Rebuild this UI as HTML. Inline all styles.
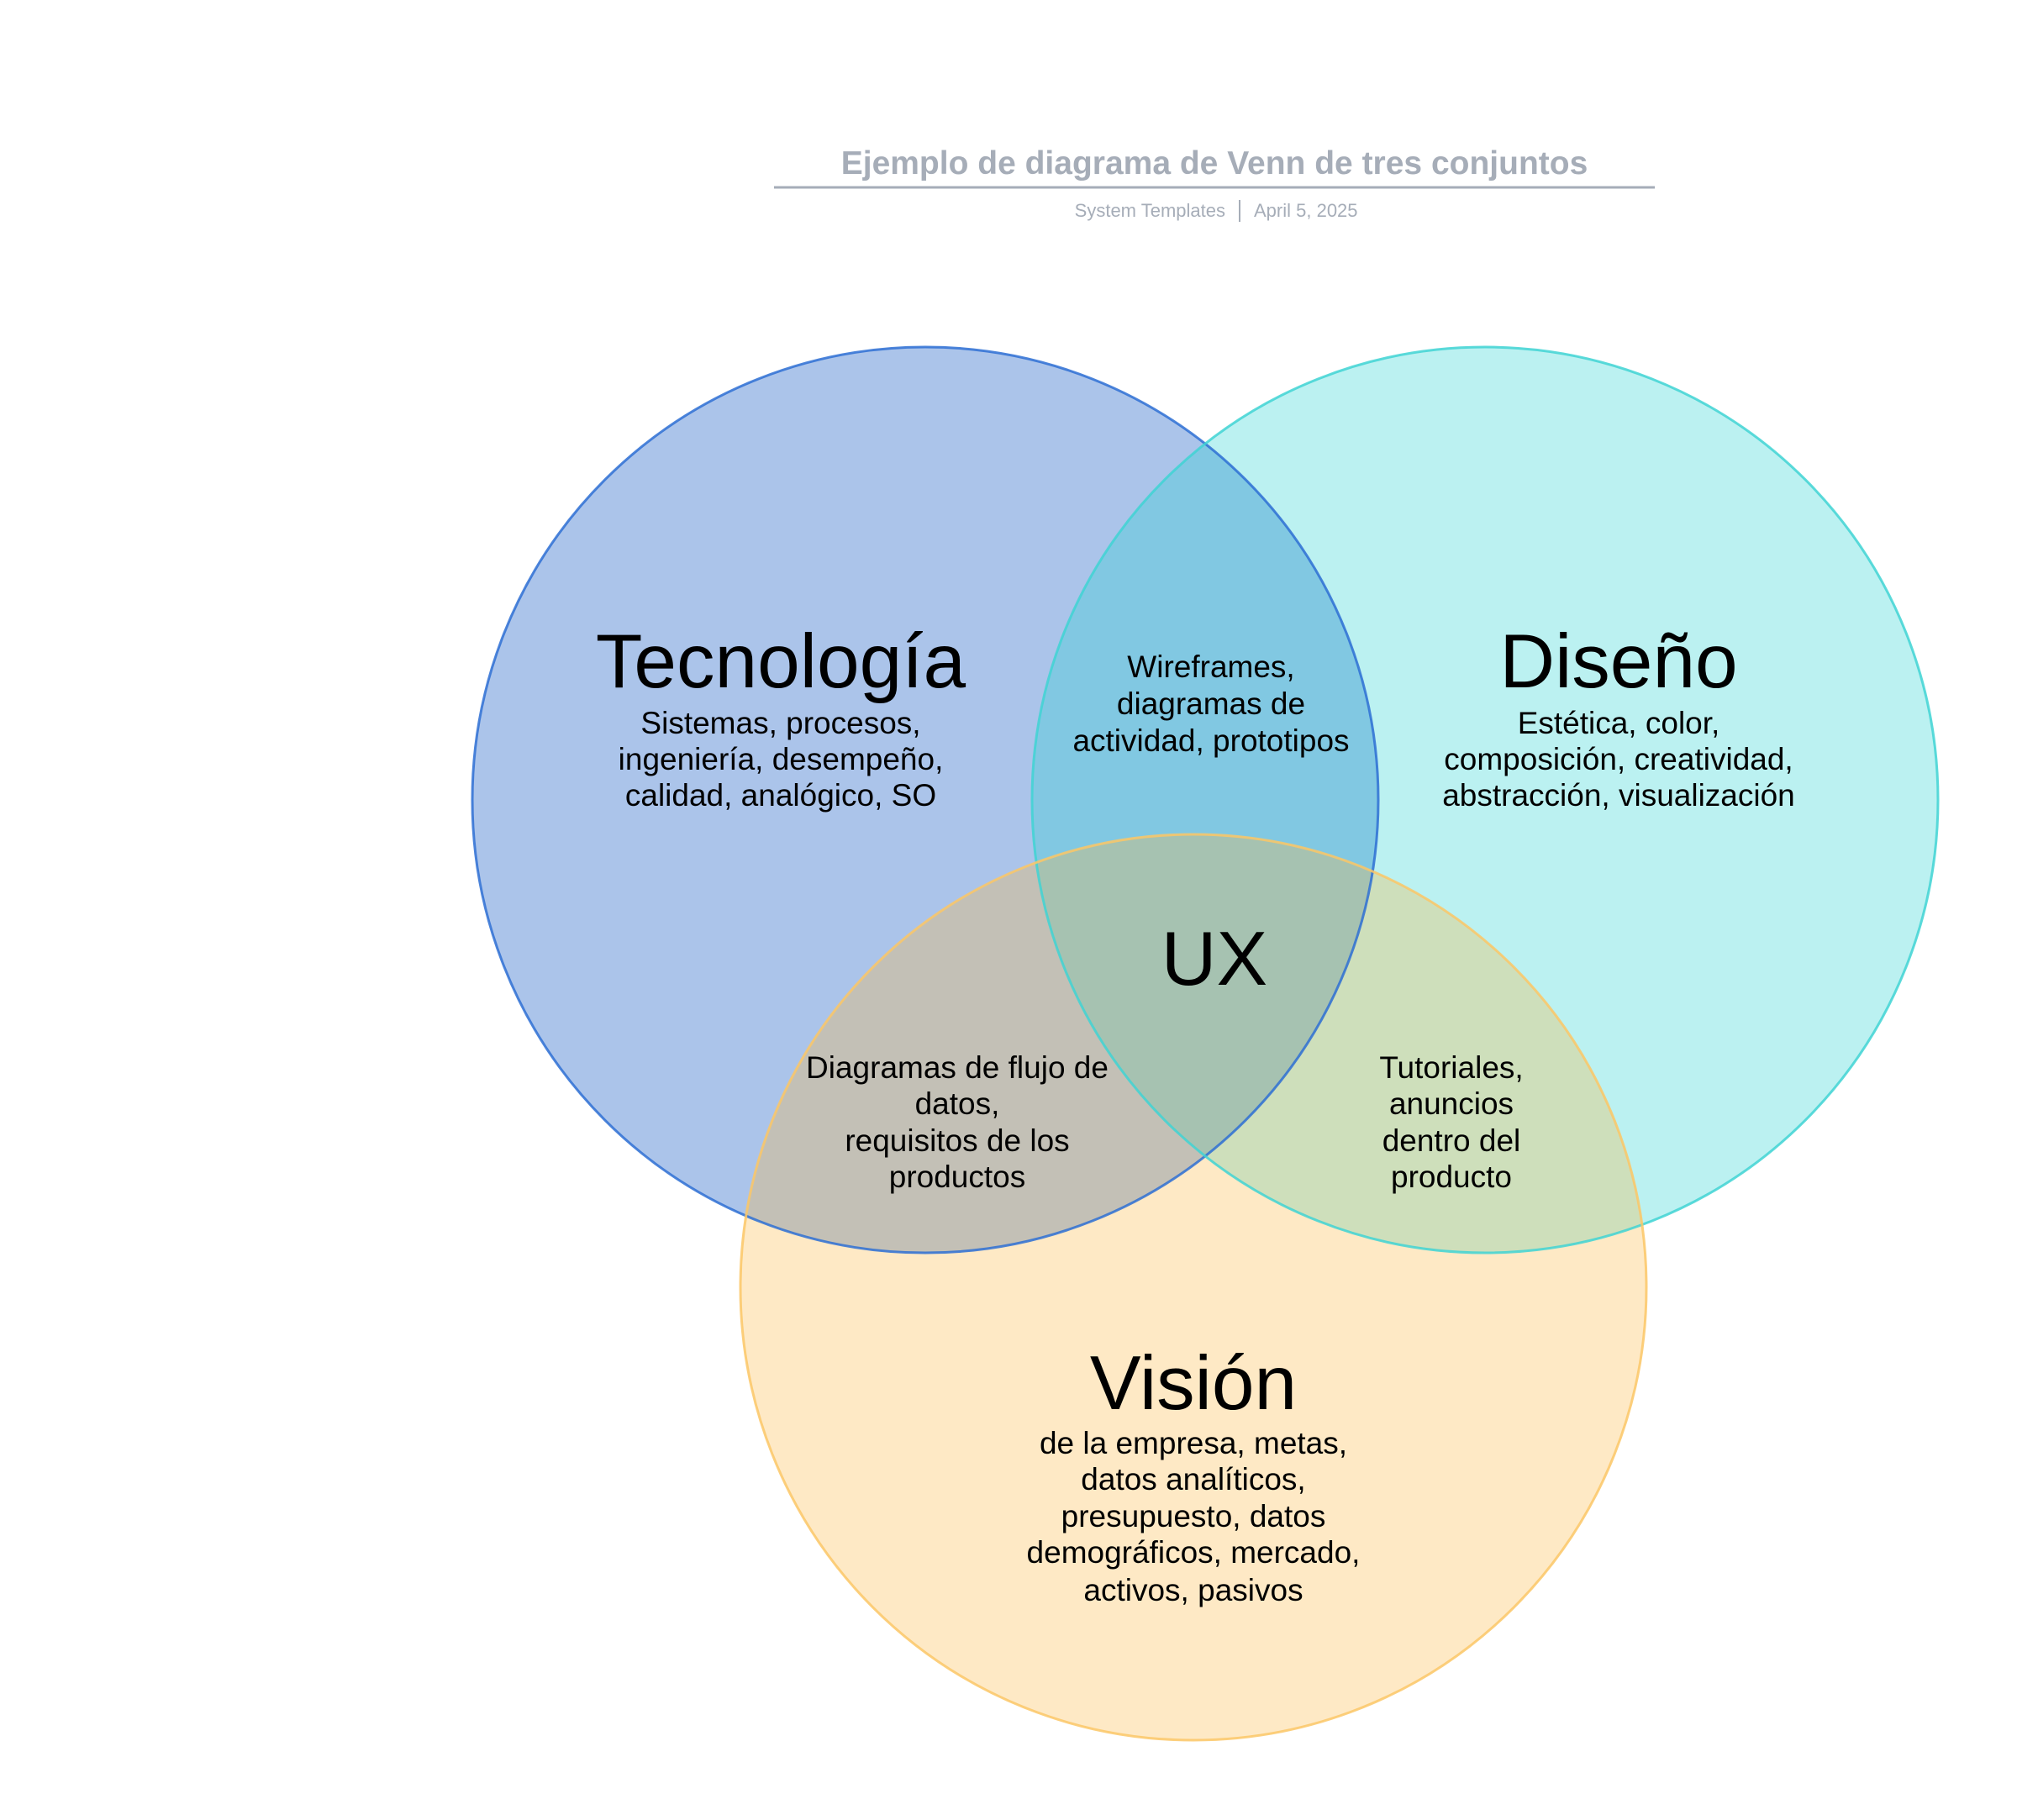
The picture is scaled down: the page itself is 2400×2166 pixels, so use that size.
<!DOCTYPE html>
<html><head><meta charset="utf-8"><style>
html,body{margin:0;padding:0;background:#fff;width:2400px;height:2166px;overflow:hidden}
svg{display:block}
text{font-family:"Liberation Sans",sans-serif;fill:#000}
</style></head><body>
<svg width="2400" height="2166" viewBox="0 0 2400 2166" xmlns="http://www.w3.org/2000/svg">
<text x="1445" y="207" text-anchor="middle" font-size="39" font-weight="bold" style="fill:#a6adb8">Ejemplo de diagrama de Venn de tres conjuntos</text>
<line x1="921" y1="223" x2="1969" y2="223" stroke="#a6adb8" stroke-width="3"/>
<text x="1458" y="258" text-anchor="end" font-size="22" style="fill:#a6adb8">System Templates</text>
<line x1="1475" y1="238" x2="1475" y2="264" stroke="#a6adb8" stroke-width="2"/>
<text x="1492" y="258" font-size="22" style="fill:#a6adb8">April 5, 2025</text>

<circle cx="1101" cy="952" r="539" fill="#3370cc" fill-opacity="0.41"/>
<circle cx="1767" cy="952" r="539" fill="#22d3d3" fill-opacity="0.31"/>
<circle cx="1420" cy="1532" r="539" fill="#fbb640" fill-opacity="0.3"/>
<circle cx="1101" cy="952" r="539" fill="none" stroke="#2d6fd4" stroke-width="3" stroke-opacity="0.85"/>
<circle cx="1767" cy="952" r="539" fill="none" stroke="#3fd3d3" stroke-width="3" stroke-opacity="0.85"/>
<circle cx="1420" cy="1532" r="539" fill="none" stroke="#fbc766" stroke-width="3" stroke-opacity="0.85"/>

<g text-anchor="middle">
<text x="929" y="818" font-size="91">Tecnología</text>
<g font-size="37">
<text x="929" y="873">Sistemas, procesos,</text>
<text x="929" y="916">ingeniería, desempeño,</text>
<text x="929" y="959">calidad, analógico, SO</text>
<text x="1441" y="806">Wireframes,</text>
<text x="1441" y="850">diagramas de</text>
<text x="1441" y="894">actividad, prototipos</text>
<text x="1926" y="873">Estética, color,</text>
<text x="1926" y="916">composición, creatividad,</text>
<text x="1926" y="959">abstracción, visualización</text>
<text x="1139" y="1283">Diagramas de flujo de</text>
<text x="1139" y="1326">datos,</text>
<text x="1139" y="1370">requisitos de los</text>
<text x="1139" y="1413">productos</text>
<text x="1727" y="1283">Tutoriales,</text>
<text x="1727" y="1326">anuncios</text>
<text x="1727" y="1370">dentro del</text>
<text x="1727" y="1413">producto</text>
<text x="1420" y="1730">de la empresa, metas,</text>
<text x="1420" y="1773">datos analíticos,</text>
<text x="1420" y="1817">presupuesto, datos</text>
<text x="1420" y="1860">demográficos, mercado,</text>
<text x="1420" y="1905">activos, pasivos</text>
</g>
<text x="1926" y="818" font-size="91">Diseño</text>
<text x="1445" y="1172" font-size="91">UX</text>
<text x="1420" y="1677" font-size="91">Visión</text>
</g>
</svg>
</body></html>
